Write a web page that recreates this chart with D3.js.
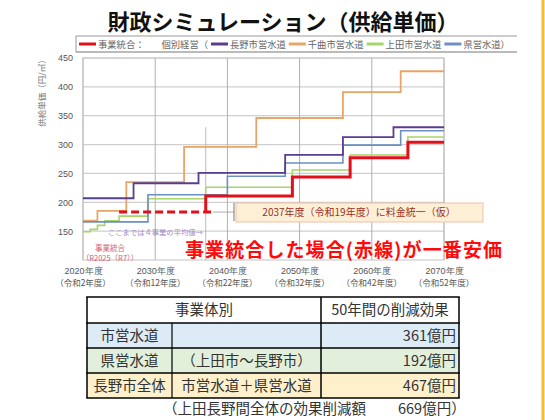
<!DOCTYPE html>
<html>
<head>
<meta charset="utf-8">
<script src="https://cdn.jsdelivr.net/npm/d3@7"></script>
<style>
  body { margin: 0; background: #fff; }
  svg { display: block; font-family: "Noto Sans CJK JP", "Noto Sans", sans-serif; }
</style>
</head>
<body>
<div id="chart"></div>
<script>
// 財政シミュレーション（供給単価）

// step data: year where each level starts, and the unit price (円/㎥)
var naganoYears = [2020, 2027, 2036, 2048, 2056, 2063, 2070];
var naganoVals  = [207, 233, 251, 282, 313, 330, 330];

var chikumaYears = [2020, 2022, 2026, 2034, 2044, 2056, 2064, 2070];
var chikumaVals  = [168, 185, 235, 296, 346, 391, 427, 427];

var uedaYears = [2020, 2021, 2022, 2023, 2025, 2029, 2037, 2049, 2057, 2065, 2070];
var uedaVals  = [149, 153, 160, 168, 176, 206, 226, 256, 282, 313, 313];

var kenYears = [2020, 2029, 2040, 2048, 2056, 2064, 2070];
var kenVals  = [166, 213, 245, 268, 299, 324, 324];

// 事業統合: average of the four until 2037 (dashed), then unified price
var avgYears = [2025, 2038];
var avgVals  = [183, 183];
var unifiedYears = [2037, 2037, 2049, 2057, 2065, 2070];
var unifiedVals  = [183, 211, 244, 277, 304, 304];

var yTicks = [150, 200, 250, 300, 350, 400, 450];
var xTickYears = [2020, 2030, 2040, 2050, 2060, 2070];
var xTickReiwa = ["（令和2年度）", "（令和12年度）", "（令和22年度）", "（令和32年度）", "（令和42年度）", "（令和52年度）"];

var legendNames = ["長野市営水道", "千曲市営水道", "上田市営水道", "県営水道"];

var tableRows = ["市営水道", "県営水道", "長野市全体"];
var tableSub = ["", "（上田市〜長野市）", "市営水道＋県営水道"];
var tableVals = ["361億円", "192億円", "467億円"];

var colors = {
  red: "#e3101c",
  purple: "#5a3e8e",
  orange: "#e9a468",
  green: "#a8d46c",
  blue: "#6c90c4"
};

var svgWidth = 545;
var svgHeight = 420;

var plot = { left: 83, right: 444, top: 58, bottom: 260 };

var svg = d3.select("#chart")
  .append("svg")
  .attr("width", svgWidth)
  .attr("height", svgHeight);

// right edge stripe
svg.append("line")
  .attr("x1", 543).attr("x2", 543)
  .attr("y1", 0).attr("y2", svgHeight)
  .attr("stroke", "#f5bd2a")
  .attr("stroke-width", 3);

// title
svg.append("text")
  .attr("x", 283)
  .attr("y", 30)
  .attr("text-anchor", "middle")
  .style("font-size", "22px")
  .style("font-weight", "bold")
  .style("fill", "#111")
  .text("財政シミュレーション（供給単価）");

// scales
var x = d3.scaleLinear().domain([2020, 2070]).range([plot.left, plot.right]);
var y = d3.scaleLinear().domain([100, 450]).range([plot.bottom, plot.top]);

// grid
var grid = svg.append("g");
grid.selectAll(".hg")
  .data(yTicks)
  .enter()
  .append("line")
  .attr("x1", plot.left).attr("x2", plot.right)
  .attr("y1", d => y(d)).attr("y2", d => y(d))
  .attr("stroke", "#cfcfcf")
  .attr("stroke-width", 1.2);

grid.selectAll(".vg")
  .data(xTickYears)
  .enter()
  .append("line")
  .attr("x1", d => x(d)).attr("x2", d => x(d))
  .attr("y1", plot.top).attr("y2", plot.bottom)
  .attr("stroke", "#b0b0b0")
  .attr("stroke-width", 1);

svg.append("rect")
  .attr("x", plot.left).attr("y", plot.top)
  .attr("width", plot.right - plot.left)
  .attr("height", plot.bottom - plot.top)
  .attr("fill", "none")
  .attr("stroke", "#c4c4c4");

// 2037 marker line
svg.append("line")
  .attr("x1", x(2037)).attr("x2", x(2037))
  .attr("y1", y(330)).attr("y2", plot.bottom)
  .attr("stroke", "#aaa")
  .attr("stroke-width", 0.8);

// y axis
var leftAxis = d3.axisLeft(y).tickValues(yTicks).tickSize(0).tickPadding(10);
var yAxisG = svg.append("g")
  .attr("transform", `translate(${plot.left}, 0)`)
  .call(leftAxis);
yAxisG.select(".domain").remove();
yAxisG.selectAll("text")
  .style("font-size", "9px")
  .style("fill", "#555")
  .style("font-family", "'Liberation Sans', sans-serif");

svg.append("text")
  .attr("transform", "translate(45, 91) rotate(-90)")
  .attr("text-anchor", "middle")
  .style("font-size", "8.5px")
  .style("fill", "#777")
  .text("供給単価（円/㎥）");

// x axis labels (two lines)
var bottomAxis = d3.axisBottom(x).tickValues(xTickYears).tickSize(0).tickPadding(8)
  .tickFormat(d => d + "年度");
var xAxisG = svg.append("g")
  .attr("transform", `translate(0, ${plot.bottom})`)
  .call(bottomAxis);
xAxisG.select(".domain").remove();
xAxisG.selectAll("text")
  .style("font-size", "9px")
  .style("fill", "#555");

svg.selectAll(".reiwa")
  .data(xTickYears)
  .enter()
  .append("text")
  .attr("x", d => x(d))
  .attr("y", 286)
  .attr("text-anchor", "middle")
  .style("font-size", "8.5px")
  .style("fill", "#555")
  .text((d, i) => xTickReiwa[i]);

// step lines
var stepLine = d3.line()
  .x(d => x(d[0]))
  .y(d => y(d[1]))
  .curve(d3.curveStepAfter);

function zip(a, b) { return a.map((v, i) => [v, b[i]]); }

var series = [
  { years: chikumaYears, vals: chikumaVals, color: colors.orange, w: 1.8 },
  { years: uedaYears, vals: uedaVals, color: colors.green, w: 1.6 },
  { years: kenYears, vals: kenVals, color: colors.blue, w: 1.6 },
  { years: naganoYears, vals: naganoVals, color: colors.purple, w: 1.8 }
];

svg.selectAll(".series")
  .data(series)
  .enter()
  .append("path")
  .attr("d", d => stepLine(zip(d.years, d.vals)))
  .attr("fill", "none")
  .attr("stroke", d => d.color)
  .attr("stroke-width", d => d.w);

// connector to annotation box
svg.append("line")
  .attr("x1", x(2038)).attr("x2", 234)
  .attr("y1", y(183)).attr("y2", y(183))
  .attr("stroke", "#999").attr("stroke-width", 0.8);
svg.append("line")
  .attr("x1", 234).attr("x2", 234)
  .attr("y1", 203).attr("y2", 221)
  .attr("stroke", "#777").attr("stroke-width", 1);

// 事業統合 red
svg.append("path")
  .attr("d", d3.line().x(d => x(d[0])).y(d => y(d[1]))(zip(avgYears, avgVals)))
  .attr("fill", "none")
  .attr("stroke", colors.red)
  .attr("stroke-width", 3)
  .attr("stroke-dasharray", "8,4");

svg.append("path")
  .attr("d", stepLine(zip(unifiedYears, unifiedVals)))
  .attr("fill", "none")
  .attr("stroke", colors.red)
  .attr("stroke-width", 3);

// annotation box
svg.append("rect")
  .attr("x", 236).attr("y", 203)
  .attr("width", 247).attr("height", 19)
  .attr("fill", "#fdefd6")
  .attr("stroke", "#f0c0a8")
  .attr("stroke-width", 1);
svg.append("text")
  .attr("x", 359).attr("y", 216)
  .attr("text-anchor", "middle")
  .style("font-size", "10px")
  .style("fill", "#9c2f22")
  .text("2037年度（令和19年度）に料金統一（仮）");

// small notes
svg.append("text")
  .attr("x", 108).attr("y", 235)
  .style("font-size", "7.3px")
  .style("fill", "#a08ac8")
  .text("ここまでは４事業の平均値→");

svg.append("text")
  .attr("x", 110).attr("y", 251)
  .attr("text-anchor", "middle")
  .style("font-size", "7.5px")
  .style("fill", "#d2607c")
  .text("事業統合");
svg.append("text")
  .attr("x", 110).attr("y", 261)
  .attr("text-anchor", "middle")
  .style("font-size", "7.5px")
  .style("fill", "#d2607c")
  .text("（R2025（R7））");

// big red message
svg.append("text")
  .attr("x", 185).attr("y", 257)
  .attr("textLength", 317)
  .style("font-size", "19px")
  .style("font-weight", "bold")
  .style("fill", "#ff0a0a")
  .text("事業統合した場合(赤線)が一番安価");

// legend
var legend = svg.append("g");
legend.append("line").attr("x1", 76).attr("x2", 517).attr("y1", 36).attr("y2", 36)
  .attr("stroke", "#999");
legend.append("line").attr("x1", 76).attr("x2", 517).attr("y1", 52).attr("y2", 52)
  .attr("stroke", "#777");
legend.append("line").attr("x1", 76).attr("x2", 76).attr("y1", 36).attr("y2", 52)
  .attr("stroke", "#999");

var legendItems = [
  { color: colors.red, label: "事業統合：" },
  { color: null, label: "個別経営（" },
  { color: colors.purple, label: legendNames[0] },
  { color: colors.orange, label: legendNames[1] },
  { color: colors.green, label: legendNames[2] },
  { color: colors.blue, label: legendNames[3] + "）" }
];

var lx = 79;
legendItems.forEach(function(item, i) {
  if (item.color) {
    legend.append("line")
      .attr("x1", lx).attr("x2", lx + 17)
      .attr("y1", 44).attr("y2", 44)
      .attr("stroke", item.color)
      .attr("stroke-width", 3);
    lx += 19;
  }
  var t = legend.append("text")
    .attr("x", lx).attr("y", 47.5)
    .style("font-size", "9.3px")
    .style("fill", "#666")
    .text(item.label);
  lx += t.node().getComputedTextLength() + (i === 0 ? 17 : 3);
});

// table
var colX = [87, 172, 321, 459];
var rowY = [297, 323, 348, 373, 398];
var rowFill = ["#ddebf7", "#e2efda", "#fff0cc"];
var table = svg.append("g");

table.append("rect")
  .attr("x", colX[0]).attr("y", rowY[0])
  .attr("width", colX[3] - colX[0]).attr("height", rowY[1] - rowY[0])
  .attr("fill", "#fff");

table.selectAll(".rowbg")
  .data(tableRows)
  .enter()
  .append("rect")
  .attr("x", colX[0])
  .attr("y", (d, i) => rowY[i + 1])
  .attr("width", colX[3] - colX[0])
  .attr("height", (d, i) => rowY[i + 2] - rowY[i + 1])
  .attr("fill", (d, i) => rowFill[i]);

// borders
rowY.forEach(function(yy) {
  table.append("line")
    .attr("x1", colX[0] - 0.75).attr("x2", colX[3] + 0.75)
    .attr("y1", yy).attr("y2", yy)
    .attr("stroke", "#000").attr("stroke-width", 1.5);
});
[colX[0], colX[2], colX[3]].forEach(function(xx) {
  table.append("line")
    .attr("x1", xx).attr("x2", xx)
    .attr("y1", rowY[0]).attr("y2", rowY[4])
    .attr("stroke", "#000").attr("stroke-width", 1.5);
});
table.append("line")
  .attr("x1", colX[1]).attr("x2", colX[1])
  .attr("y1", rowY[1]).attr("y2", rowY[4])
  .attr("stroke", "#000").attr("stroke-width", 1.2);

var tstyle = function(sel) {
  return sel.style("font-size", "14.5px").style("fill", "#333");
};

tstyle(table.append("text")
  .attr("x", (colX[0] + colX[2]) / 2).attr("y", 315)
  .attr("text-anchor", "middle")
  .text("事業体別"));
tstyle(table.append("text")
  .attr("x", (colX[2] + colX[3]) / 2).attr("y", 315)
  .attr("text-anchor", "middle")
  .text("50年間の削減効果"));

tableRows.forEach(function(name, i) {
  var by = (rowY[i + 1] + rowY[i + 2]) / 2 + 5.5;
  tstyle(table.append("text")
    .attr("x", (colX[0] + colX[1]) / 2).attr("y", by)
    .attr("text-anchor", "middle")
    .text(name));
  tstyle(table.append("text")
    .attr("x", (colX[1] + colX[2]) / 2).attr("y", by)
    .attr("text-anchor", "middle")
    .text(tableSub[i]));
  tstyle(table.append("text")
    .attr("x", colX[3] - 3).attr("y", by)
    .attr("text-anchor", "end")
    .text(tableVals[i]));
});

tstyle(svg.append("text")
  .attr("x", 163).attr("y", 414)
  .style("font-size", "14px")
  .text("（上田長野間全体の効果削減額"));
tstyle(svg.append("text")
  .attr("x", 398).attr("y", 414)
  .style("font-size", "14px")
  .text("669億円）"));
</script>
</body>
</html>
